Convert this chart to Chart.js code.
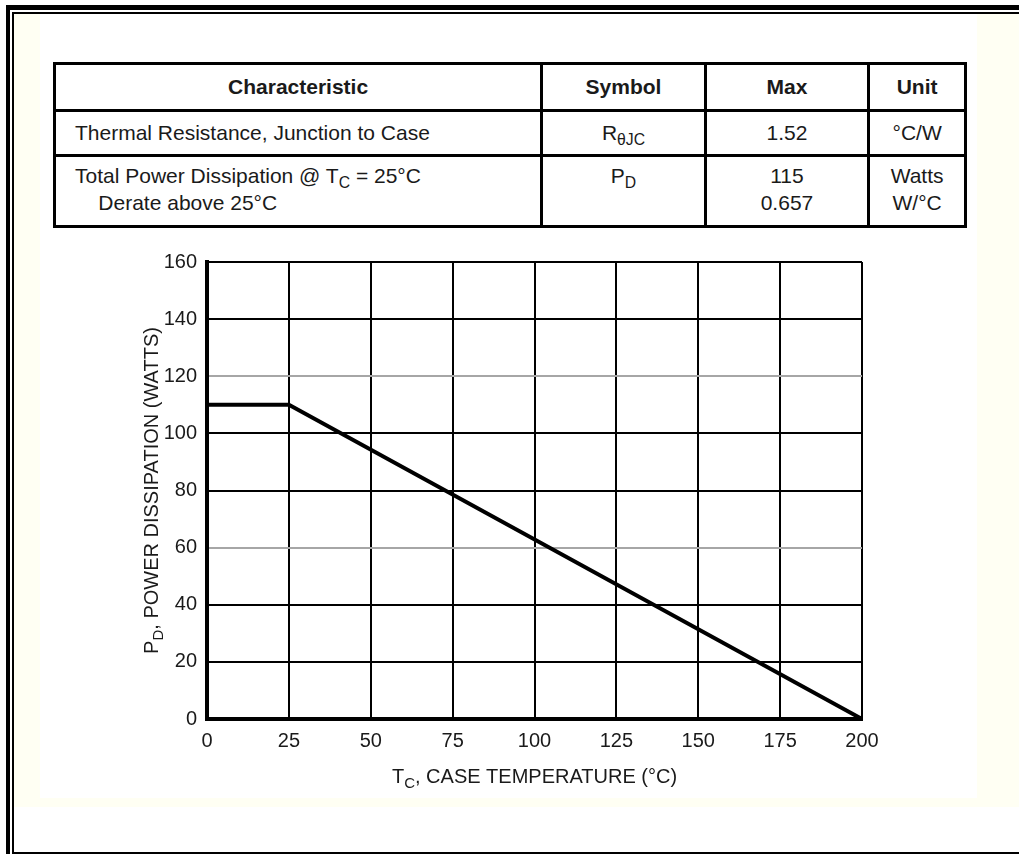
<!DOCTYPE html>
<html lang="en">
<head>
  <meta charset="UTF-8">
  <title>Power Derating</title>
  <script src="https://cdn.jsdelivr.net/npm/chart.js"></script>
  <style>
    body { margin: 0; background: #fff; font-family: "Liberation Sans", Arial, sans-serif; }
    #page { position: relative; width: 1019px; height: 854px; overflow: hidden; }
    .bar { position: absolute; background: #000; }
    #cream { position: absolute; left: 14px; top: 14px; width: 1005px; height: 793px; background: #fffff3; }
    #white { position: absolute; left: 40px; top: 14px; width: 937px; height: 784px; background: #fff; }
    table.spec {
      position: absolute; left: 53px; top: 62px; width: 914px; height: 166px;
      border-collapse: collapse; font-size: 21px; color: #1a1a1a;
    }
    table.spec td, table.spec th { border: 3px solid #000; padding: 0; }
    table.spec th { font-weight: bold; height: 44px; }
    table.spec tr.r2 td { height: 42px; }
    table.spec tr.r3 td { vertical-align: top; padding-top: 5px; line-height: 27px; }
    table.spec td.left { text-align: left; padding-left: 19px; }
    table.spec td.c { text-align: center; }
    sub { font-size: 75%; vertical-align: -0.3em; line-height: 0; }
    #chartBox { position: absolute; left: 110px; top: 240px; }
  </style>
</head>
<body>
<div id="page">
  <div id="cream"></div>
  <div id="white"></div>
  <div class="bar" style="left:6px;top:5px;width:1013px;height:5px"></div>
  <div class="bar" style="left:6px;top:5px;width:4px;height:849px"></div>
  <div class="bar" style="left:12px;top:12px;width:1007px;height:2px"></div>
  <div class="bar" style="left:12px;top:12px;width:2px;height:842px"></div>
  <div class="bar" style="left:12px;top:852px;width:1007px;height:2px"></div>

  <table class="spec">
    <colgroup>
      <col style="width:489px"><col style="width:164px"><col style="width:164px"><col style="width:97px">
    </colgroup>
    <tr><th>Characteristic</th><th>Symbol</th><th>Max</th><th>Unit</th></tr>
    <tr class="r2">
      <td class="left">Thermal Resistance, Junction to Case</td>
      <td class="c">R<sub>θJC</sub></td>
      <td class="c">1.52</td>
      <td class="c">°C/W</td>
    </tr>
    <tr class="r3">
      <td class="left">Total Power Dissipation @ T<sub>C</sub> = 25°C<br>&nbsp;&nbsp;&nbsp;&nbsp;Derate above 25°C</td>
      <td class="c">P<sub>D</sub></td>
      <td class="c">115<br>0.657</td>
      <td class="c">Watts<br>W/°C</td>
    </tr>
  </table>

  <div id="chartBox"><canvas id="derateChart" width="790" height="570"></canvas></div>
</div>

<script>
  // derating curve
  const caseTemp = [0, 25, 200];
  const powerWatts = [110, 110, 0];
  const xTickValues = [0, 25, 50, 75, 100, 125, 150, 175, 200];
  const yTickValues = [0, 20, 40, 60, 80, 100, 120, 140, 160];
  const grayLines = [60, 120];

  const FONT = '"Liberation Sans", Arial, sans-serif';

  // axis titles with subscripts, drawn on the canvas
  function drawParts(ctx, parts, cx, baseY) {
    const big = '20px ' + FONT, small = '15px ' + FONT;
    let total = 0;
    parts.forEach(p => { ctx.font = p.sub ? small : big; total += ctx.measureText(p.t).width; });
    let x = cx - total / 2;
    parts.forEach(p => {
      ctx.font = p.sub ? small : big;
      ctx.fillText(p.t, x, baseY + (p.sub ? 5 : 0));
      x += ctx.measureText(p.t).width;
    });
  }

  const titlePlugin = {
    id: 'subTitles',
    afterDraw(chart) {
      const ctx = chart.ctx, a = chart.chartArea;
      ctx.save();
      ctx.fillStyle = '#1a1a1a';
      ctx.textBaseline = 'alphabetic';
      drawParts(ctx, [{t: 'T'}, {t: 'C', sub: true}, {t: ', CASE TEMPERATURE (°C)'}],
        (a.left + a.right) / 2, a.bottom + 64);
      ctx.translate(a.left - 49, (a.top + a.bottom) / 2);
      ctx.rotate(-Math.PI / 2);
      drawParts(ctx, [{t: 'P'}, {t: 'D', sub: true}, {t: ', POWER DISSIPATION (WATTS)'}], 0, 0);
      ctx.restore();
    }
  };

  const ctx = document.getElementById('derateChart').getContext('2d');
  new Chart(ctx, {
    type: 'line',
    data: {
      datasets: [{
        data: caseTemp.map((t, i) => ({x: t, y: powerWatts[i]})),
        borderColor: '#000',
        borderWidth: 4,
        pointRadius: 0,
        fill: false,
        tension: 0
      }]
    },
    options: {
      responsive: false,
      animation: false,
      layout: { padding: { top: 19, right: 38, left: 0, bottom: 0 } },
      plugins: { legend: { display: false }, tooltip: { enabled: false } },
      scales: {
        x: {
          type: 'linear', min: 0, max: 200,
          afterBuildTicks: s => { s.ticks = xTickValues.map(v => ({value: v})); },
          afterFit: s => { s.height = 91; },
          grid: { color: '#000', lineWidth: 2, drawTicks: false },
          border: { color: '#000', width: 4 },
          ticks: { color: '#1a1a1a', padding: 10, font: { family: FONT, size: 20 } }
        },
        y: {
          min: 0, max: 160,
          afterBuildTicks: s => { s.ticks = yTickValues.map(v => ({value: v})); },
          afterFit: s => { s.width = 97; },
          grid: {
            color: c => grayLines.includes(c.tick && c.tick.value) ? '#a6a6a6' : '#000',
            lineWidth: 2, drawTicks: false
          },
          border: { color: '#000', width: 4 },
          ticks: { color: '#1a1a1a', padding: 10, font: { family: FONT, size: 20 } }
        }
      }
    },
    plugins: [titlePlugin]
  });
</script>
</body>
</html>
